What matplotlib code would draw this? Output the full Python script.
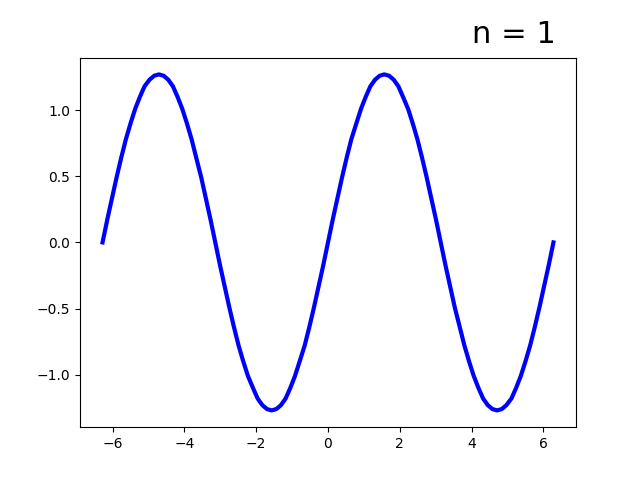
import matplotlib
matplotlib.use("Agg")
import matplotlib.pyplot as plt

x_vals = [-6.28, -6.15, -6.02, -5.89, -5.76, -5.63, -5.50, -5.37, -5.24, -5.11, -4.97, -4.84,
          -4.71, -4.58, -4.45, -4.32, -4.19, -4.06, -3.93, -3.80, -3.67, -3.53, -3.40, -3.27,
          -3.14, -3.01, -2.88, -2.75, -2.62, -2.49, -2.36, -2.23, -2.09, -1.96, -1.83, -1.70,
          -1.57, -1.44, -1.31, -1.18, -1.05, -0.92, -0.79, -0.65, -0.52, -0.39, -0.26, -0.13,
          0.00, 0.13, 0.26, 0.39, 0.52, 0.65, 0.79, 0.92, 1.05, 1.18, 1.31, 1.44,
          1.57, 1.70, 1.83, 1.96, 2.09, 2.23, 2.36, 2.49, 2.62, 2.75, 2.88, 3.01,
          3.14, 3.27, 3.40, 3.53, 3.67, 3.80, 3.93, 4.06, 4.19, 4.32, 4.45, 4.58,
          4.71, 4.84, 4.97, 5.11, 5.24, 5.37, 5.50, 5.63, 5.76, 5.89, 6.02, 6.15, 6.28]
y_vals = [0.00, 0.17, 0.33, 0.49, 0.64, 0.78, 0.90, 1.01, 1.10, 1.18, 1.23, 1.26,
          1.27, 1.26, 1.23, 1.18, 1.10, 1.01, 0.90, 0.78, 0.64, 0.49, 0.33, 0.17,
          0.00, -0.17, -0.33, -0.49, -0.64, -0.78, -0.90, -1.01, -1.10, -1.18, -1.23, -1.26,
          -1.27, -1.26, -1.23, -1.18, -1.10, -1.01, -0.90, -0.78, -0.64, -0.49, -0.33, -0.17,
          0.00, 0.17, 0.33, 0.49, 0.64, 0.78, 0.90, 1.01, 1.10, 1.18, 1.23, 1.26,
          1.27, 1.26, 1.23, 1.18, 1.10, 1.01, 0.90, 0.78, 0.64, 0.49, 0.33, 0.17,
          0.00, -0.17, -0.33, -0.49, -0.64, -0.78, -0.90, -1.01, -1.10, -1.18, -1.23, -1.26,
          -1.27, -1.26, -1.23, -1.18, -1.10, -1.01, -0.90, -0.78, -0.64, -0.49, -0.33, -0.17, 0.00]
label = "n = 1"

fig, ax = plt.subplots(figsize=(6.4, 4.8), dpi=100)
ax.plot(x_vals, y_vals, color="blue", linewidth=3)
ax.text(0.79, 1.04, label, transform=ax.transAxes, fontsize=22, ha="left", va="baseline")
fig.savefig("out.png")
